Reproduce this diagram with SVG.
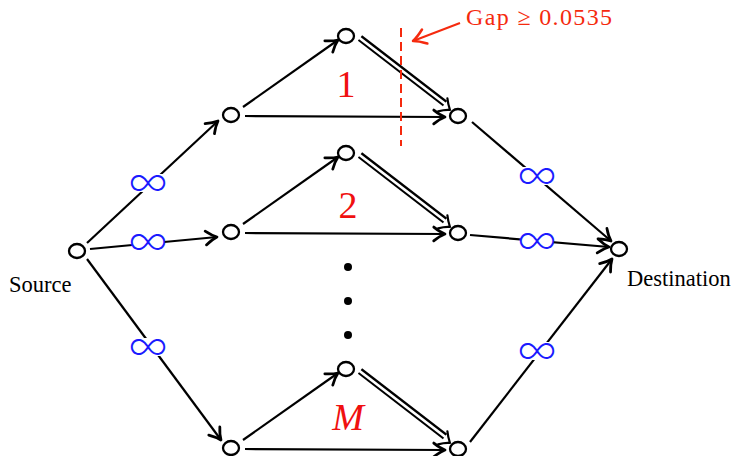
<svg xmlns="http://www.w3.org/2000/svg" width="737" height="456" viewBox="0 0 737 456">
<defs>
<marker id="ar" markerUnits="userSpaceOnUse" markerWidth="20" markerHeight="20" refX="0" refY="0" viewBox="-12 -8 14 16" orient="auto" overflow="visible">
<path d="M -9 -5.5 Q -4 -1.5 0 0 Q -4 1.5 -9 5.5" fill="none" stroke="#000" stroke-width="2.2" stroke-linecap="round" stroke-linejoin="round"/>
</marker>
<marker id="arr" markerUnits="userSpaceOnUse" markerWidth="20" markerHeight="20" refX="0" refY="0" viewBox="-12 -8 14 16" orient="auto" overflow="visible">
<path d="M -10 -6 Q -4 -1.5 0 0 Q -4 1.5 -10 6" fill="none" stroke="#f52a0e" stroke-width="2" stroke-linecap="round" stroke-linejoin="round"/>
</marker>
</defs>
<style>
.n{fill:#fff;stroke:#000;stroke-width:2.3}
.e{fill:none;stroke:#000;stroke-width:2.2;marker-end:url(#ar)}
.dbo{fill:none;stroke:#000;stroke-width:7}
.dbi{fill:none;stroke:#fff;stroke-width:2.8}
.dh{fill:none;stroke:#000;stroke-width:2.2;stroke-linecap:round;stroke-linejoin:round}
.inf{font-family:Inter,"DejaVu Sans",sans-serif;font-weight:200;font-size:44px;fill:#1a1aff;text-anchor:middle}
.lab{font-family:"Liberation Serif",serif;font-size:22.5px;fill:#000}
.red{font-family:"Liberation Serif",serif;fill:#f01010;text-anchor:middle}
.bg{fill:#fff}
</style>
<rect width="737" height="456" fill="#fff"/>
<g id="connectors">
<line class="e" x1="87" y1="243" x2="218" y2="121"/>
<line class="e" x1="90" y1="249" x2="217" y2="237"/>
<line class="e" x1="87" y1="259" x2="221" y2="440"/>
<line class="e" x1="472" y1="122" x2="611" y2="241"/>
<line class="e" x1="470" y1="235" x2="609" y2="247"/>
<line class="e" x1="470" y1="442" x2="612" y2="259"/>
<!-- gadget 1 -->
<line class="e" x1="243" y1="107" x2="338" y2="40"/>
<line class="e" x1="245" y1="116" x2="445" y2="117"/>
<line class="dbo" x1="360" y1="38" x2="445" y2="103.5"/>
<line class="dbi" x1="357" y1="36" x2="446" y2="104.5"/>
<path class="dh" d="M 438.1 111.4 Q 445 109.5 450 110 Q 448 104 447.4 98.3"/>
<!-- gadget 2 -->
<line class="e" x1="243" y1="224" x2="338" y2="157"/>
<line class="e" x1="245" y1="233" x2="445" y2="234"/>
<line class="dbo" x1="360" y1="155" x2="445" y2="220.5"/>
<line class="dbi" x1="357" y1="153" x2="446" y2="221.5"/>
<path class="dh" d="M 438.1 228.4 Q 445 226.5 450 227 Q 448 221 447.4 215.3"/>
<!-- gadget M -->
<line class="e" x1="243" y1="440" x2="338" y2="373"/>
<line class="e" x1="245" y1="449" x2="445" y2="450"/>
<line class="dbo" x1="360" y1="371" x2="445" y2="436.5"/>
<line class="dbi" x1="357" y1="369" x2="446" y2="437.5"/>
<path class="dh" d="M 438.1 444.4 Q 445 442.5 450 443 Q 448 437 447.4 431.3"/>
</g>
<g id="edge-labels">
<rect class="bg" x="132" y="174" width="32" height="18"/>
<text class="inf" x="148" y="197">∞</text>
<rect class="bg" x="132" y="233" width="32" height="18"/>
<text class="inf" x="148" y="256">∞</text>
<rect class="bg" x="132" y="338" width="32" height="18"/>
<text class="inf" x="148" y="361">∞</text>
<rect class="bg" x="521" y="167" width="32" height="18"/>
<text class="inf" x="537" y="190">∞</text>
<rect class="bg" x="521" y="232" width="32" height="18"/>
<text class="inf" x="537" y="255">∞</text>
<rect class="bg" x="521" y="342" width="32" height="18"/>
<text class="inf" x="537" y="365">∞</text>
</g>
<g id="gap-cut">
<line x1="401" y1="28" x2="401" y2="146" stroke="#f52a0e" stroke-width="2" stroke-dasharray="9,5"/>
<line x1="460" y1="23" x2="413" y2="41" stroke="#f52a0e" stroke-width="2" marker-end="url(#arr)"/>
<text x="466" y="25" font-family="'Liberation Serif',serif" font-size="24" fill="#f52a0e" textLength="146" lengthAdjust="spacing">Gap ≥ 0.0535</text>
</g>
<g id="node-source"><ellipse class="n" cx="77" cy="251" rx="8" ry="7"/><text class="lab" x="9" y="292">Source</text></g>
<g id="node-destination"><ellipse class="n" cx="619" cy="249" rx="8" ry="7"/><text class="lab" x="627" y="286">Destination</text></g>
<g id="node-g1-left"><ellipse class="n" cx="231" cy="115" rx="8" ry="7"/></g>
<g id="node-g1-top"><ellipse class="n" cx="346" cy="36" rx="8" ry="7"/></g>
<g id="node-g1-right"><ellipse class="n" cx="458" cy="116" rx="8" ry="7"/></g>
<g id="node-g2-left"><ellipse class="n" cx="231" cy="232" rx="8" ry="7"/></g>
<g id="node-g2-top"><ellipse class="n" cx="346" cy="153" rx="8" ry="7"/></g>
<g id="node-g2-right"><ellipse class="n" cx="458" cy="233" rx="8" ry="7"/></g>
<g id="node-gM-left"><ellipse class="n" cx="231" cy="448" rx="8" ry="7"/></g>
<g id="node-gM-top"><ellipse class="n" cx="346" cy="369" rx="8" ry="7"/></g>
<g id="node-gM-right"><ellipse class="n" cx="458" cy="449" rx="8" ry="7"/></g>
<g id="gadget-labels">
<text class="red" x="346" y="97" font-size="38">1</text>
<text class="red" x="348" y="218" font-size="38">2</text>
<text class="red" x="348" y="430" font-size="38" font-style="italic">M</text>
</g>
<g id="ellipsis-dots">
<circle cx="348" cy="267" r="4" fill="#000"/>
<circle cx="348" cy="301" r="4" fill="#000"/>
<circle cx="348" cy="335" r="4" fill="#000"/>
</g>
</svg>
